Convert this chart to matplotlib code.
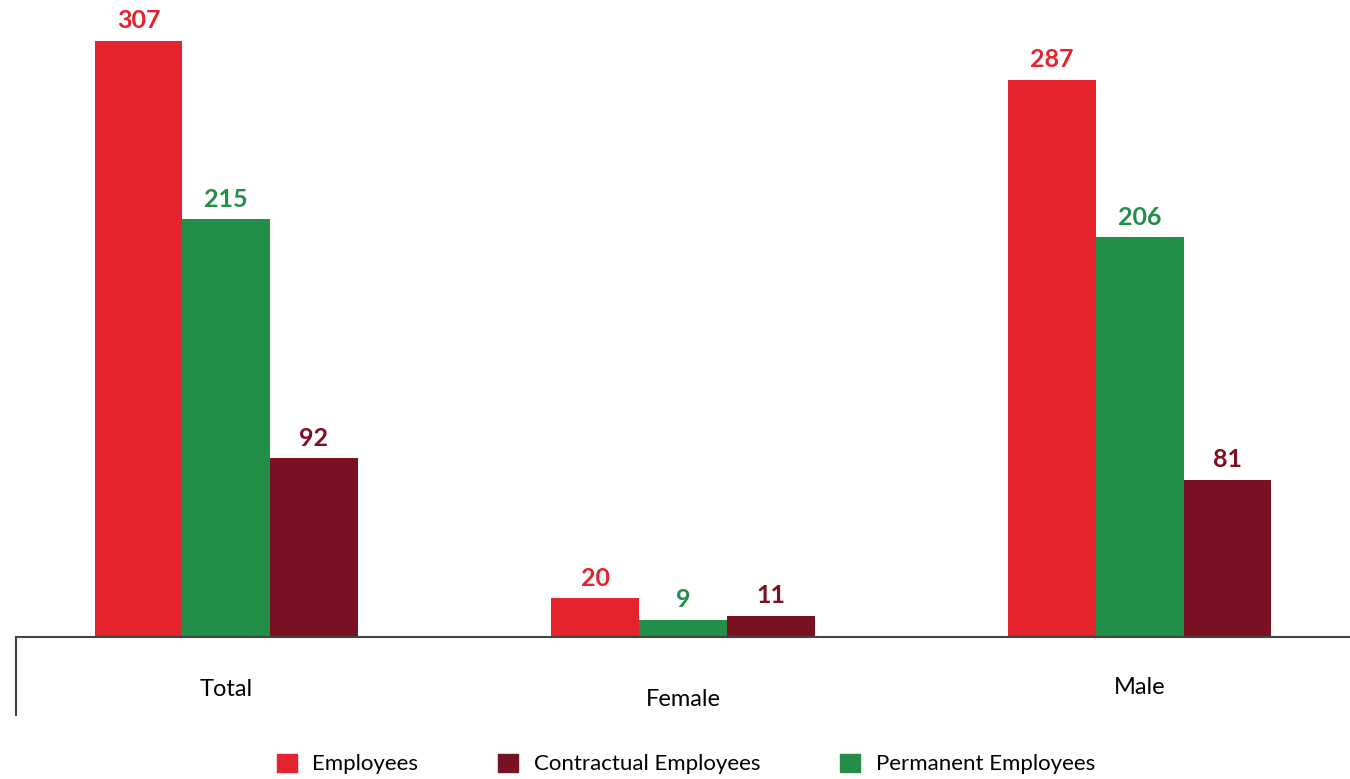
import matplotlib.pyplot as plt
import numpy as np
from matplotlib.patches import Patch
from matplotlib.transforms import ScaledTranslation

categories = ["Total", "Female", "Male"]
employees = [307, 20, 287]
permanent = [215, 9, 206]
contractual = [92, 11, 81]

RED = "#E4232D"
GREEN = "#238E48"
MAROON = "#7A1122"

plt.rcParams["font.family"] = ["Lato", "DejaVu Sans"]

fig = plt.figure(figsize=(13.5, 7.79), dpi=100)
ax = fig.add_axes([16 / 1350, 1 - 637 / 779, 1 - 16 / 1350, 637 / 779])

x = np.arange(len(categories))
w = 0.192
series = [(employees, RED, -w), (permanent, GREEN, 0), (contractual, MAROON, w)]
for vals, col, off in series:
    bars = ax.bar(x + off, vals, width=w, color=col, zorder=2)
    ax.bar_label(bars, labels=[str(v) for v in vals], padding=6,
                 color=col, fontsize=18, fontweight="bold")

ax.set_xlim(-0.46, 2.46)
ax.set_ylim(0, 328)

for s in ["top", "right", "left"]:
    ax.spines[s].set_visible(False)
ax.spines["bottom"].set_color("#444444")
ax.spines["bottom"].set_linewidth(1.5)
ax.set_yticks([])

ax.set_xticks(x)
ax.set_xticklabels(categories, fontsize=17, color="black")
ax.tick_params(axis="x", length=0, pad=30)
# labels sit at slightly different heights in the original
shifts = [0, -10, 2]
for lab, dy in zip(ax.get_xticklabels(), shifts):
    lab.set_transform(lab.get_transform() + ScaledTranslation(0, dy / 100, fig.dpi_scale_trans))

# vertical line at left edge below the baseline
ax.plot([0, 0], [0, -78 / 637], transform=ax.transAxes, color="#444444",
        lw=1.5, clip_on=False)

handles = [Patch(color=RED, label="Employees"),
           Patch(color=MAROON, label="Contractual Employees"),
           Patch(color=GREEN, label="Permanent Employees")]
fig.legend(handles=handles, loc="center", bbox_to_anchor=(686 / 1350, 1 - 764 / 779),
           ncol=3, frameon=False, fontsize=16, handlelength=0.9, handleheight=0.9,
           handletextpad=0.7, columnspacing=3.6)

fig.savefig("out.png", dpi=100)
